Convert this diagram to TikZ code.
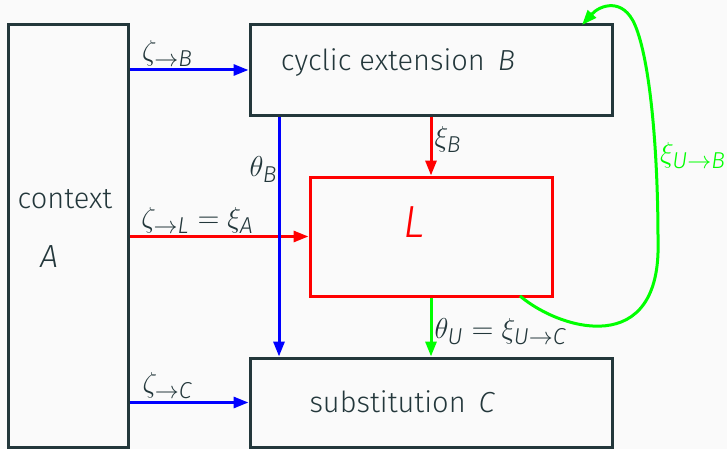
\documentclass[tikz,border=0pt]{standalone}
\usepackage{amsmath}
\usepackage{fontspec}
\setmainfont{Fira Sans Light}[ItalicFont={Fira Sans Light Italic}]
\usetikzlibrary{arrows.meta,calc}
\definecolor{mDark}{HTML}{23373B}
\definecolor{mBg}{HTML}{FAFAFA}
\newcommand{\mv}[1]{\text{\itshape #1}}
\DeclareMathSizes{14.5}{14.5}{11.5}{9}

\begin{document}
\begin{tikzpicture}[x=0.5pt,y=-0.5pt,
  every node/.style={font=\fontsize{14.5}{17}\selectfont},
  box/.style={draw=mDark, line width=1.5pt, rectangle, inner sep=0pt},
  arr/.style={line width=1.5pt, -{Triangle[length=7.5pt,width=5.5pt]}},
  lbl/.style={text=mDark, inner sep=1pt}]
\fill[mBg] (0,0) rectangle (727,449);
\useasboundingbox (0,0) rectangle (727,449);

% boxes
\node[box, minimum width=60pt, minimum height=211pt] (A) at (68,236) {};
\node[box, minimum width=181pt, minimum height=45pt] (B) at (431,70) {};
\node[box, draw=red, minimum width=121pt, minimum height=59.5pt] (L) at (431,236.5) {};
\node[box, minimum width=181pt, minimum height=44.5pt] (C) at (431,402.5) {};

% texts in the boxes
\node[lbl, anchor=base] (Atxt) at (65,208) {context};
\node[lbl, anchor=base, font=\fontsize{16}{19}\selectfont] (Aname) at (49,267) {$\mv{A}$};
\node[lbl, anchor=base] (Btxt) at (398,71) {cyclic extension\, $\mv{B}$};
\node[lbl, anchor=base, text=red, font=\fontsize{22.5}{27}\selectfont] (Ltxt) at (414,237) {$\mv{L}$};
\node[lbl, anchor=base] (Ctxt) at (402,412) {substitution\, $\mv{C}$};

% arrows from the context
\draw[arr, blue] (A.east |- B.west) -- node[lbl, above, pos=0.32] {$\zeta_{\to\mv{B}}$} (B.west);
\draw[arr, red] (A.east |- L.west) -- node[lbl, above, pos=0.38] {$\zeta_{\to\mv{L}} = \xi_{\mv{A}}$} (L.west);
\draw[arr, blue] (A.east |- C.west) -- node[lbl, above, pos=0.32] {$\zeta_{\to\mv{C}}$} (C.west);

% vertical arrows
\draw[arr, blue] ([xshift=-76pt]B.south) -- node[lbl, left, pos=0.22, inner sep=0pt] {$\theta_{\mv{B}}$} ([xshift=-76pt]C.north);
\draw[arr, red] (B.south) -- node[lbl, right, pos=0.39] {$\xi_{\mv{B}}$} (L.north);
\draw[arr, green] (L.south) -- node[lbl, right, pos=0.58] {$\theta_{\mv{U}} = \xi_{\mv{U}\to\mv{C}}$} (C.north);

% loop back to B
\coordinate (Uout) at (520,296);
\coordinate (Bin) at (582,25);
\draw[arr, green] (Uout) .. controls (560,330) and (662,360) .. (658,240)
  .. controls (658,150) and (650,60) .. node[lbl, right, pos=0.32, text=green, inner sep=1.5pt] {$\xi_{\mv{U}\to\mv{B}}$} (635,25)
  .. controls (623,-3) and (600,5) .. (Bin);
\end{tikzpicture}
\end{document}
